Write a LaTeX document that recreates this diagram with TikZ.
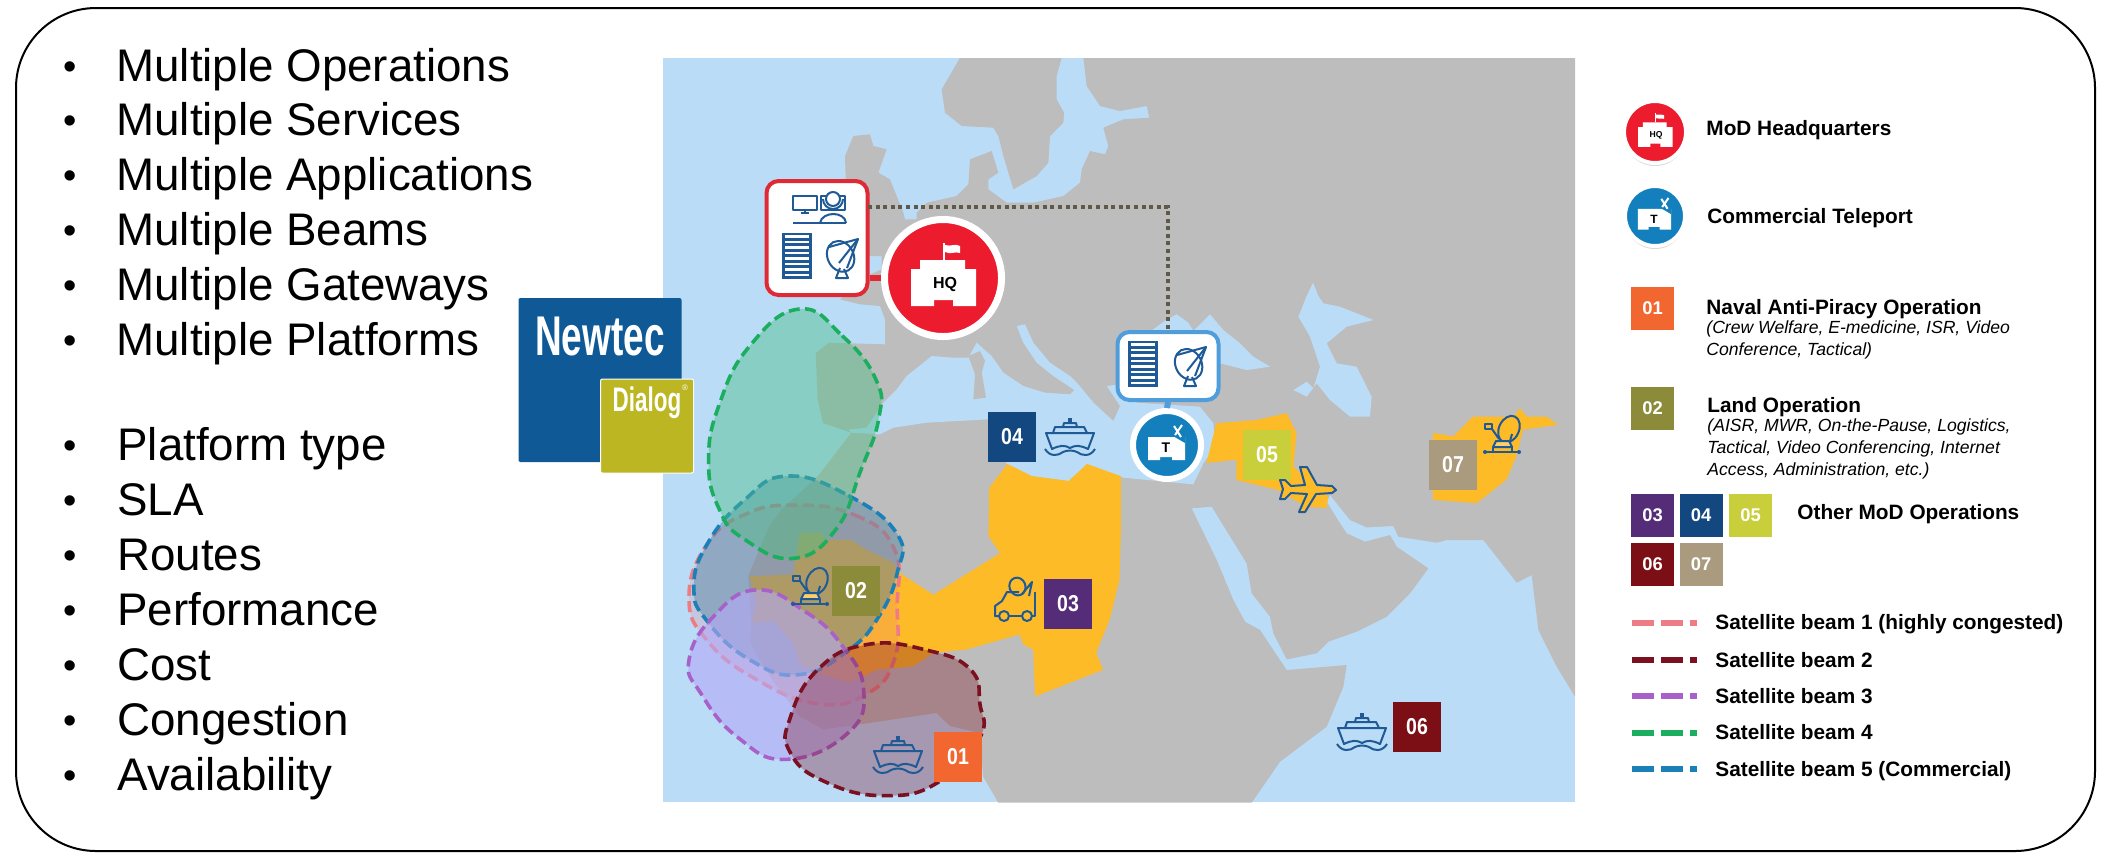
\documentclass[tikz,border=0pt]{standalone}
\usepackage{fontspec}
\setmainfont{Liberation Sans}
\newfontfamily\logofont[FakeStretch=0.66]{Liberation Sans}
\newfontfamily\numfont[FakeStretch=0.85]{Liberation Sans}
\usetikzlibrary{shadows}
\definecolor{seablue}{HTML}{BBDCF7}
\definecolor{landgray}{HTML}{BDBDBD}
\definecolor{saharaamber}{HTML}{FDBB27}
\definecolor{iconblue}{HTML}{1F5A96}
\definecolor{hqred}{HTML}{EC1C2E}
\definecolor{boxred}{HTML}{DF2A36}
\definecolor{portblue}{HTML}{1380BD}
\definecolor{boxblue}{HTML}{4F9DDB}
\definecolor{linkbrown}{HTML}{5F5A48}
\definecolor{logoblue}{HTML}{0F5A96}
\definecolor{logoolive}{HTML}{BCB623}
\definecolor{opone}{HTML}{F26730}
\definecolor{optwo}{HTML}{8C8B3A}
\definecolor{opthree}{HTML}{552C78}
\definecolor{opfour}{HTML}{13477F}
\definecolor{opfive}{HTML}{C9CE3B}
\definecolor{opsix}{HTML}{7B0F15}
\definecolor{opseven}{HTML}{AB9B7E}
\definecolor{beamone}{HTML}{EE7C85}
\definecolor{beamtwo}{HTML}{7A1020}
\definecolor{beamthree}{HTML}{A861C9}
\definecolor{beamfour}{HTML}{1AAE5E}
\definecolor{beamfive}{HTML}{1A80B8}
\definecolor{fourfill}{RGB}{78,191,134}
\tikzset{
  mapgrid/.style={shift={(640,50)},x=0.3062pt,y=-0.2421pt},
  eurogrid/.style={shift={(860,56)},x=0.16667pt,y=-0.16667pt},
  listitem/.style={anchor=base west,inner sep=0pt,font=\fontsize{22.85}{26}\selectfont},
  listdot/.style={anchor=base,inner sep=0pt,font=\fontsize{19}{26}\selectfont},
  keytext/.style={anchor=base west,inner sep=0pt,font=\fontsize{10.4}{12}\selectfont\bfseries},
  keynote/.style={anchor=north west,inner sep=0pt,align=left,font=\fontsize{8.8}{11}\selectfont\itshape},
  opbox/.style={fill=#1,text=white,inner sep=0pt,minimum width=24pt,minimum height=25pt,font=\numfont\fontsize{11.5}{12}\selectfont\bfseries},
  opkey/.style={fill=#1,text=white,inner sep=0pt,minimum width=21.5pt,minimum height=21.5pt,font=\fontsize{9.2}{12}\selectfont\bfseries},
  beamarea/.style={draw=#1,dash pattern=on 5.5pt off 2.7pt,line width=1.8pt},
  beamkey/.style={draw=#1,line width=3pt,dash pattern=on 11pt off 3.6pt},
  basedot/.style={circle,draw=white,inner sep=0pt,drop shadow={shadow xshift=0pt,shadow yshift=-1.5pt,opacity=.3}},
  sitebox/.style={draw=#1,fill=white,rounded corners=6pt,line width=2pt,inner sep=0pt},
  iconline/.style={draw=iconblue,line width=1pt,line join=round},
  shipicon/.pic={
    \draw[iconline] (-24,-4) -- (24,-4) -- (18,12) .. controls (10,8) and (5,8) .. (0,11) .. controls (-5,8) and (-10,8) .. (-18,12) -- cycle;
    \draw[iconline] (-17,-4) -- (-15,-10) -- (14,-10) -- (17,-4);
    \draw[iconline] (-7,-10) -- (-6,-14) -- (6,-14) -- (7,-10);
    \draw[iconline,line width=1.8pt] (0,-14) -- (0,-19);
    \draw[iconline] (-25,12) .. controls (-20,20) and (-12,19) .. (-7,15) .. controls (-3,13) and (3,13) .. (7,15) .. controls (12,19) and (20,20) .. (25,12);
  },
  dishicon/.pic={
    \draw[iconline,rotate=28] (0,-3) ellipse (13 and 16);
    \draw[iconline] (-13,-12) -- (16,-20) -- (5,9);
    \draw[iconline] (16,-20) -- (-3,4);
    \draw[iconline] (-2,9) -- (-6,19) -- (6,19) -- (2,10);
  },
  rackicon/.pic={
    \fill[iconblue] (-15,-23) rectangle (15,23);
    \foreach \yy in {-19.5,-14,...,19} {\fill[white] (-12,\yy-1.4) rectangle (12,\yy+1.4);}
  },
  vsaticon/.pic={
    \draw[iconline,rotate=-25] (3,-10) ellipse (10 and 14);
    \draw[iconline] (-17,-13) rectangle (-10,-8);
    \draw[iconline] (-10,-8) -- (-3,2);
    \draw[iconline] (10,-3) -- (8,4);
    \draw[iconline,fill=saharaamber!70!white] (-9,10) -- (-6,4) -- (7,4) -- (10,10) -- cycle;
    \draw[iconline] (-17,15) -- (17,15);
    \fill[iconblue] (-17,15) circle (2) (17,15) circle (2);
    \draw[iconline] (-9,10) -- (-9,15) (10,10) -- (10,15);
  },
  truckicon/.pic={
    \draw[iconline] (-17,13) -- (-21,13) -- (-21,3) -- (-14,-2) -- (-9,-11) -- (3,-11);
    \draw[iconline] (19,-11) -- (19,13) -- (16,13) (6,13) -- (-7,13);
    \draw[iconline] (-12,13) circle (5) (11,13) circle (5);
    \draw[iconline,rotate=20] (7,-15) ellipse (8 and 9);
    \draw[iconline] (6,-9) -- (16,-21) -- (13,-7);
  },
  planeicon/.pic={
    \draw[iconline,fill=saharaamber] (31,1) -- (27,-3) -- (12,-4) -- (2,-22) -- (-5,-22) -- (0,-4) -- (-14,-3) -- (-20,-9) -- (-25,-9) -- (-22,0) -- (-25,10) -- (-20,10) -- (-14,4) -- (2,5) -- (-6,23) -- (0,23) -- (11,5) -- (27,4) -- cycle;
  },
  operatoricon/.pic={
    \draw[iconline] (-39,-19) rectangle (-15,-5);
    \draw[iconline] (-27,-5) -- (-27,-2) (-31,-2) -- (-23,-2);
    \draw[iconline] (-11,-19) rectangle (13,-5);
    \draw[iconline,fill=white] (-12,8) .. controls (-10,-4) and (13,-4) .. (14,8);
    \draw[iconline,fill=white] (1,-16) circle (7);
    \draw[iconline] (-9,-16) arc (180:0:10);
    \draw[iconline,line width=1.3pt] (-39,8) -- (14,8);
  },
  hqbuilding/.pic={
    \fill[white] (-32,28) -- (-32,-9) -- (-23,-9) -- (-23,-18) -- (22,-18) -- (22,-9) -- (33,-9) -- (33,28) -- (10,28) -- (10,22) -- (-9,22) -- (-9,28) -- cycle;
    \fill[white] (0,-35) rectangle (2,-18);
    \fill[white] (2,-33) .. controls (8,-31) and (12,-35) .. (17,-32) -- (17,-25) .. controls (12,-27) and (8,-23) .. (2,-26) -- cycle;
  },
  portbuilding/.pic={
    \fill[white] (-19,15) -- (-19,-8) -- (18,-8) -- (18,15) -- (5,15) -- (5,12) -- (-7,12) -- (-7,15) -- cycle;
    \fill[portblue] (6,-9) -- (18,-9) -- (18,-2) -- cycle;
    \draw[white,line width=1pt] (7,-19) -- (14,-8) (15,-20) -- (8,-10);
  }
}
\begin{document}
\begin{tikzpicture}[x=0.5pt,y=-0.5pt]
\useasboundingbox (0,0) rectangle (2112,864);
\draw[line width=1pt,rounded corners=40pt] (16,8) rectangle (2095,851);

\foreach \txt [count=\n] in {Multiple Operations,Multiple Services,Multiple Applications,Multiple Beams,Multiple Gateways,Multiple Platforms} {
  \node[listdot] (opsdot\n) at (70,{79+54.8*(\n-1)}) {•};
  \node[listitem] (opsitem\n) at (116,{81+54.8*(\n-1)}) {\txt};
}
\foreach \txt [count=\n] in {Platform type,SLA,Routes,Performance,Cost,Congestion,Availability} {
  \node[listdot] (slotdot\n) at (70,{458+55*(\n-1)}) {•};
  \node[listitem] (slotitem\n) at (117,{460+55*(\n-1)}) {\txt};
}

\fill[seablue] (663,58) rectangle (1575,802);
\begin{scope}
\clip (663,58) rectangle (1575,802);
\begin{scope}[eurogrid]
\fill[landgray] plot coordinates {(300,5) (245,100) (255,170) (305,210) (400,215) (415,240) (430,300) (460,400) (530,360) (565,320) (570,240) (610,200) (612,170) (590,130) (590,60) (605,5)} -- cycle;
\fill[landgray] plot coordinates {(670,5) (2145,5) (2145,1922) (2090,1832) (2035,1722) (2015,1557) (1970,1580) (1870,1452) (1760,1452) (1730,1460) (1615,1442) (1600,1410) (1520,1414) (1470,1392) (1450,1367) (1410,1317) (1400,1337) (1440,1402) (1460,1432) (1515,1457) (1590,1437) (1610,1472) (1705,1537) (1650,1612) (1580,1682) (1490,1727) (1405,1757) (1370,1792) (1280,1810) (1240,1732) (1230,1682) (1175,1612) (1160,1522) (1055,1352) (995,1357) (1070,1512) (1120,1632) (1155,1697) (1200,1722) (1280,1842) (1460,1827) (1450,1892) (1400,2012) (1260,2117) (1175,2240) (415,2240) (369,2161) (360,2031) (270,2010) (229,1971) (20,2002) (-111,2020) (-181,1981) (-271,1861) (-329,1762) (-326,1701) (-335,1559) (-274,1413) (-237,1362) (-127,1261) (-26,1130) (-111,1101) (-127,1031) (-133,892) (-94,860) (75,865) (75,790) (60,750) (0,745) (-60,730) (20,660) (65,640) (65,600) (20,600) (-20,580) (-42,400) (-45,300) (-20,240) (30,235) (40,270) (80,280) (55,350) (90,370) (130,470) (135,490) (170,490) (170,470) (200,440) (290,420) (325,385) (330,310) (395,285) (415,350) (385,370) (385,400) (440,440) (520,440) (610,420) (660,380) (665,340) (690,285) (735,295) (745,270) (730,215) (790,190) (868,185) (860,150) (780,165) (720,150) (680,90)} -- cycle;
\fill[seablue] plot coordinates {(-35,1121) (20,1115) (50,1070) (70,1040) (110,1000) (140,960) (215,900) (280,905) (325,905) (350,860) (395,900) (430,950) (490,990) (555,1010) (630,1015) (655,990) (700,1040) (760,1095) (780,1050) (740,990) (780,985) (830,1040) (1020,1052) (1060,1102) (1065,1172) (1030,1222) (1000,1285) (790,1265) (681,1224) (626,1275) (516,1261) (442,1224) (400,1170) (385,1090) (200,1100) (100,1115) (60,1135) (-26,1130)} -- cycle;
\fill[seablue] plot coordinates {(470,810) (495,805) (520,860) (570,920) (630,960) (655,985) (700,1040) (640,1000) (580,960) (530,920) (490,860)} -- cycle;
\fill[seablue] plot coordinates {(800,1000) (800,850) (880,820) (920,790) (950,775) (985,800) (1000,825) (1050,775) (1090,822) (1140,862) (1180,902) (1230,932) (1160,942) (1080,922) (1080,1000)} -- cycle;
\fill[seablue] plot coordinates {(1315,782) (1340,720) (1359,680) (1375,720) (1390,742) (1440,752) (1540,792) (1460,812) (1400,862) (1430,922) (1490,932) (1535,1022) (1530,1082) (1470,1082) (1410,1032) (1370,982) (1340,1022) (1300,1002) (1340,977) (1360,997) (1380,932) (1350,842)} -- cycle;
\fill[landgray] plot coordinates {(325,900) (360,885) (375,915) (365,950) (378,1025) (340,1030) (345,955)} -- cycle;
\end{scope}
\begin{scope}[mapgrid]
\fill[saharaamber] plot coordinates {(570,905) (600,855) (640,880) (700,890) (730,855) (785,880) (785,1000) (783,1094) (767,1176) (745,1245) (756,1280) (645,1335) (642,1238) (626,1228) (620,1207) (533,1238) (479,1245) (446,1273) (386,1280) (343,1307) (305,1293) (261,1269) (250,1225) (218,1180) (182,1183) (190,1142) (179,1087) (250,1083) (261,997) (294,997) (305,1011) (343,1011) (370,1032) (414,1059) (424,1080) (479,1125) (588,1039) (569,1004)} -- cycle;
\fill[saharaamber] plot coordinates {(925,853) (941,771) (1007,764) (1056,750) (1072,791) (1067,860) (1099,901) (1124,922) (1121,946) (1088,943) (1040,908) (974,888) (974,846)} -- cycle;
\fill[saharaamber] plot coordinates {(1295,791) (1328,798) (1360,757) (1426,757) (1437,740) (1448,757) (1480,757) (1499,774) (1442,784) (1431,839) (1415,887) (1366,936) (1295,929)} -- cycle;
\filldraw[beamarea=beamone,fill=beamone,fill opacity=.22] plot[smooth cycle,tension=.8] coordinates {(250,940) (350,960) (415,1030) (420,1150) (415,1260) (370,1330) (290,1350) (190,1300) (110,1220) (80,1130) (110,1020) (170,960)};
\filldraw[beamarea=beamfive,fill=beamfive!55!gray,fill opacity=.42] plot[smooth cycle,tension=.8] coordinates {(240,880) (340,920) (420,1000) (420,1080) (390,1170) (340,1240) (260,1290) (180,1260) (110,1180) (88,1110) (110,1020) (170,930)};
\filldraw[beamarea=beamthree,fill=beamthree!40!blue!40!white,fill opacity=.6] plot[smooth cycle,tension=.8] coordinates {(190,1115) (270,1160) (330,1230) (365,1320) (340,1410) (240,1465) (160,1420) (100,1330) (80,1260) (120,1170)};
\filldraw[beamarea=beamfour,fill=fourfill,fill opacity=.45] plot[smooth cycle,tension=.8] coordinates {(260,535) (330,590) (385,680) (390,760) (360,870) (320,990) (250,1050) (170,1010) (130,950) (112,850) (130,730) (180,610)};
\filldraw[beamarea=beamtwo,fill=beamtwo,fill opacity=.33] plot[smooth cycle,tension=.8] coordinates {(370,1228) (470,1240) (540,1280) (555,1350) (555,1420) (490,1510) (400,1540) (300,1510) (245,1450) (245,1380) (290,1280)};
\end{scope}
\end{scope}

\node[opbox=opone] (mapone) at (958,757) {01};
\node[opbox=optwo] (maptwo) at (856,591) {02};
\node[opbox=opthree] (mapthree) at (1068,604) {03};
\node[opbox=opfour] (mapfour) at (1012,437) {04};
\node[opbox=opfive] (mapfive) at (1267,455) {05};
\node[opbox=opsix] (mapsix) at (1417,727) {06};
\node[opbox=opseven] (mapseven) at (1453,465) {07};
\pic at (898,755) {shipicon};
\pic at (1070,437) {shipicon};
\pic at (1362,732) {shipicon};
\pic at (810,589) {vsaticon};
\pic at (1502,437) {vsaticon};
\pic at (1016,603) {truckicon};
\pic at (1305,489) {planeicon};

\node[sitebox=boxred,minimum width=50.5pt,minimum height=57pt] (hqbox) at (817,238) {};
\node[sitebox=boxblue,minimum width=50.5pt,minimum height=34pt] (tbox) at (1168,366) {};
\node[basedot,fill=hqred,line width=3.5pt,minimum size=58.5pt] (hqcircle) at (943,278) {};
\node[basedot,fill=portblue,line width=3pt,minimum size=34pt] (tcircle) at (1167,445) {};
\coordinate (hqexit) at (868,207);
\draw[boxred,line width=3pt] (hqcircle.west) -- (hqcircle.west -| hqbox.east);
\draw[boxblue,line width=3pt] (tbox.south) -- (tcircle.north);
\draw[linkbrown,line width=1.7pt,dash pattern=on 2pt off 1.8pt] (hqexit) -| (tbox.north);
\pic at (832,215) {operatoricon};
\pic at (797,256) {rackicon};
\pic at (842,259) {dishicon};
\pic at (1143,364) {rackicon};
\pic at (1190,367) {dishicon};
\pic at (943,278) {hqbuilding};
\node[inner sep=0pt,font=\fontsize{8}{9}\selectfont\bfseries] (hqname) at (945,284) {HQ};
\pic at (1167,445) {portbuilding};
\node[inner sep=0pt,font=\fontsize{7}{8}\selectfont\bfseries] (tname) at (1166,448) {T};

\node[fill=logoblue,rounded corners=1pt,minimum width=81.5pt,minimum height=82pt,inner sep=0pt] (logoback) at (600,380) {};
\node[fill=logoolive,draw=white,line width=.5pt,rounded corners=1pt,minimum width=46.5pt,minimum height=47pt,inner sep=0pt] (logofront) at (647,426) {};
\node[text=white,inner sep=0pt,font=\logofont\fontsize{28}{30}\selectfont\bfseries] (logonew) at (600,336) {Newtec};
\node[text=white,inner sep=0pt,font=\logofont\fontsize{17}{18}\selectfont\bfseries] (logodial) at (647,403) {Dialog};
\node[text=white,inner sep=0pt,font=\fontsize{4}{5}\selectfont] (logomark) at (685,388) {®};

\node[basedot,fill=hqred,line width=2pt,minimum size=31pt] (keyhq) at (1655,132) {};
\node[basedot,fill=portblue,line width=2pt,minimum size=30pt] (keyport) at (1655,216) {};
\pic[scale=.53] at (1655,132) {hqbuilding};
\node[inner sep=0pt,font=\fontsize{4.3}{5}\selectfont\bfseries] (keyhqname) at (1656,135) {HQ};
\pic[scale=.9] at (1655,216) {portbuilding};
\node[inner sep=0pt,font=\fontsize{6}{7}\selectfont\bfseries] (keyportname) at (1654,219) {T};
\node[keytext] (keyhqtext) at (1706,135) {MoD Headquarters};
\node[keytext] (keyporttext) at (1707,223) {Commercial Teleport};

\node[opkey=opone] (keyone) at (1652.5,308) {01};
\node[keytext] (keyonetext) at (1706,314) {Naval Anti-Piracy Operation};
\node[keynote] (keyonenote) at (1706,320) {(Crew Welfare, E-medicine, ISR, Video\\Conference, Tactical)};
\node[opkey=optwo] (keytwo) at (1652.5,408) {02};
\node[keytext] (keytwotext) at (1707,412) {Land Operation};
\node[keynote] (keytwonote) at (1707,418) {(AISR, MWR, On-the-Pause, Logistics,\\Tactical, Video Conferencing, Internet\\Access, Administration, etc.)};
\node[opkey=opthree] (keythree) at (1652.5,515.5) {03};
\node[opkey=opfour] (keyfour) at (1701,515.5) {04};
\node[opkey=opfive] (keyfive) at (1750.5,515.5) {05};
\node[opkey=opsix] (keysix) at (1652.5,564) {06};
\node[opkey=opseven] (keyseven) at (1701,564) {07};
\node[keytext] (keyothers) at (1797,519) {Other MoD Operations};

\foreach \col/\yy/\txt [count=\n] in {beamone/622.6/Satellite beam 1 (highly congested),beamtwo/660/Satellite beam 2,beamthree/696/Satellite beam 3,beamfour/732.6/Satellite beam 4,beamfive/769.4/Satellite beam 5 (Commercial)} {
  \draw[beamkey=\col] (1632,\yy) -- (1697,\yy);
  \node[keytext] (beamtext\n) at (1715,\yy+7) {\txt};
}
\end{tikzpicture}
\end{document}
